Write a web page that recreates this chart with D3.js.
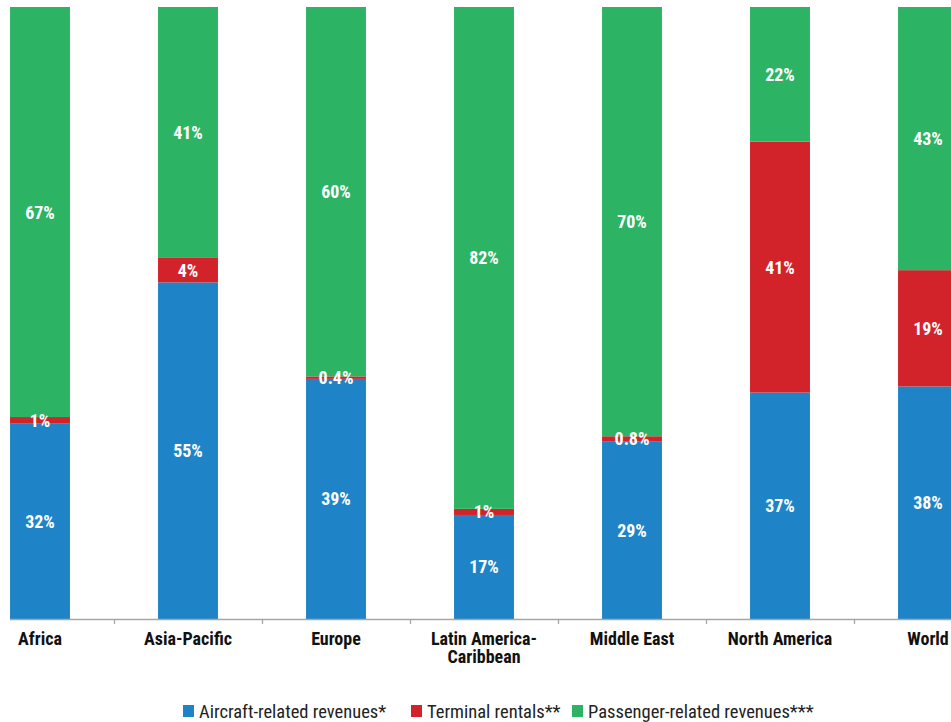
<!DOCTYPE html>
<html>
<head>
<meta charset="utf-8">
<script src="https://cdn.jsdelivr.net/npm/d3@7"></script>
<style>
  html, body { margin: 0; padding: 0; background: #fff; }
  svg { display: block; }
  text { font-family: "Liberation Sans Narrow", "Arial Narrow", "Roboto Condensed", "Liberation Sans", sans-serif; }
</style>
</head>
<body>
<svg id="chart" width="951" height="722"></svg>
<script>
// Airport revenue mix by region (share of total, %)
const regions = ["Africa", "Asia-Pacific", "Europe", "Latin America-Caribbean", "Middle East", "North America", "World"];
const regionLines = [["Africa"], ["Asia-Pacific"], ["Europe"], ["Latin America-", "Caribbean"], ["Middle East"], ["North America"], ["World"]];
const seriesNames = ["Aircraft-related revenues*", "Terminal rentals**", "Passenger-related revenues***"];
const aircraft  = [32, 55, 39, 17, 29, 37, 38];
const terminal  = [1, 4, 0.4, 1, 0.8, 41, 19];
const passenger = [67, 41, 60, 82, 70, 22, 43];
const colors = ["#1f84c7", "#d2232a", "#2db364"];

const rows = regions.map((r, i) => ({ region: r, s0: aircraft[i], s1: terminal[i], s2: passenger[i] }));
const keys = ["s0", "s1", "s2"];

const svg = d3.select("#chart");
const W = 951;

const x = d3.scaleBand().domain(regions).range([-34, 1002]).paddingInner(0.595).paddingOuter(0.2975);
const y = d3.scaleLinear().domain([0, 1]).range([619, 7]);

const layers = d3.stack().keys(keys).offset(d3.stackOffsetExpand)(rows);

const g = svg.append("g");

layers.forEach((layer, li) => {
  g.selectAll(null)
    .data(layer)
    .join("rect")
    .attr("x", d => x(d.data.region))
    .attr("width", x.bandwidth())
    .attr("y", d => y(d[1]))
    .attr("height", d => y(d[0]) - y(d[1]))
    .attr("fill", colors[li]);
});

// value labels at segment centres
const fmt = v => (v < 1 ? d3.format(".1f")(v) : d3.format("d")(v)) + "%";
layers.forEach((layer, li) => {
  g.selectAll(null)
    .data(layer)
    .join("text")
    .attr("x", d => x(d.data.region) + x.bandwidth() / 2)
    .attr("y", d => (y(d[0]) + y(d[1])) / 2)
    .attr("dy", "0.36em")
    .attr("text-anchor", "middle")
    .attr("fill", "#fff")
    .attr("font-size", 18)
    .attr("font-weight", "bold")
    .text(d => fmt(d.data[keys[li]]));
});

// x axis
svg.append("line")
  .attr("x1", 10).attr("x2", W)
  .attr("y1", 619.5).attr("y2", 619.5)
  .attr("stroke", "#a6a6a6").attr("stroke-width", 1.3);

const boundaries = regions.slice(1).map(r => x(r) - x.step() * x.paddingInner() / 2);
svg.selectAll(null)
  .data(boundaries)
  .join("line")
  .attr("x1", d => Math.round(d) + 0.5).attr("x2", d => Math.round(d) + 0.5)
  .attr("y1", 619.5).attr("y2", 624)
  .attr("stroke", "#a6a6a6").attr("stroke-width", 1.3);

// category labels, one text per line
regions.forEach((r, i) => {
  regionLines[i].forEach((line, k) => {
    svg.append("text")
      .attr("x", x(r) + x.bandwidth() / 2)
      .attr("y", 645 + k * 18)
      .attr("text-anchor", "middle")
      .attr("fill", "#111")
      .attr("font-size", 18)
      .attr("font-weight", "bold")
      .text(line);
  });
});

// legend
const legendX = [183, 411, 572];
const legend = svg.selectAll(null)
  .data(seriesNames)
  .join("g")
  .attr("transform", (d, i) => `translate(${legendX[i]},718)`);
legend.append("rect")
  .attr("x", 0).attr("y", -13)
  .attr("width", 11).attr("height", 12)
  .attr("fill", (d, i) => colors[i]);
legend.append("text")
  .attr("x", 16).attr("y", 0)
  .attr("fill", "#222")
  .attr("font-size", 18.5)
  .text(d => d);
</script>
</body>
</html>
